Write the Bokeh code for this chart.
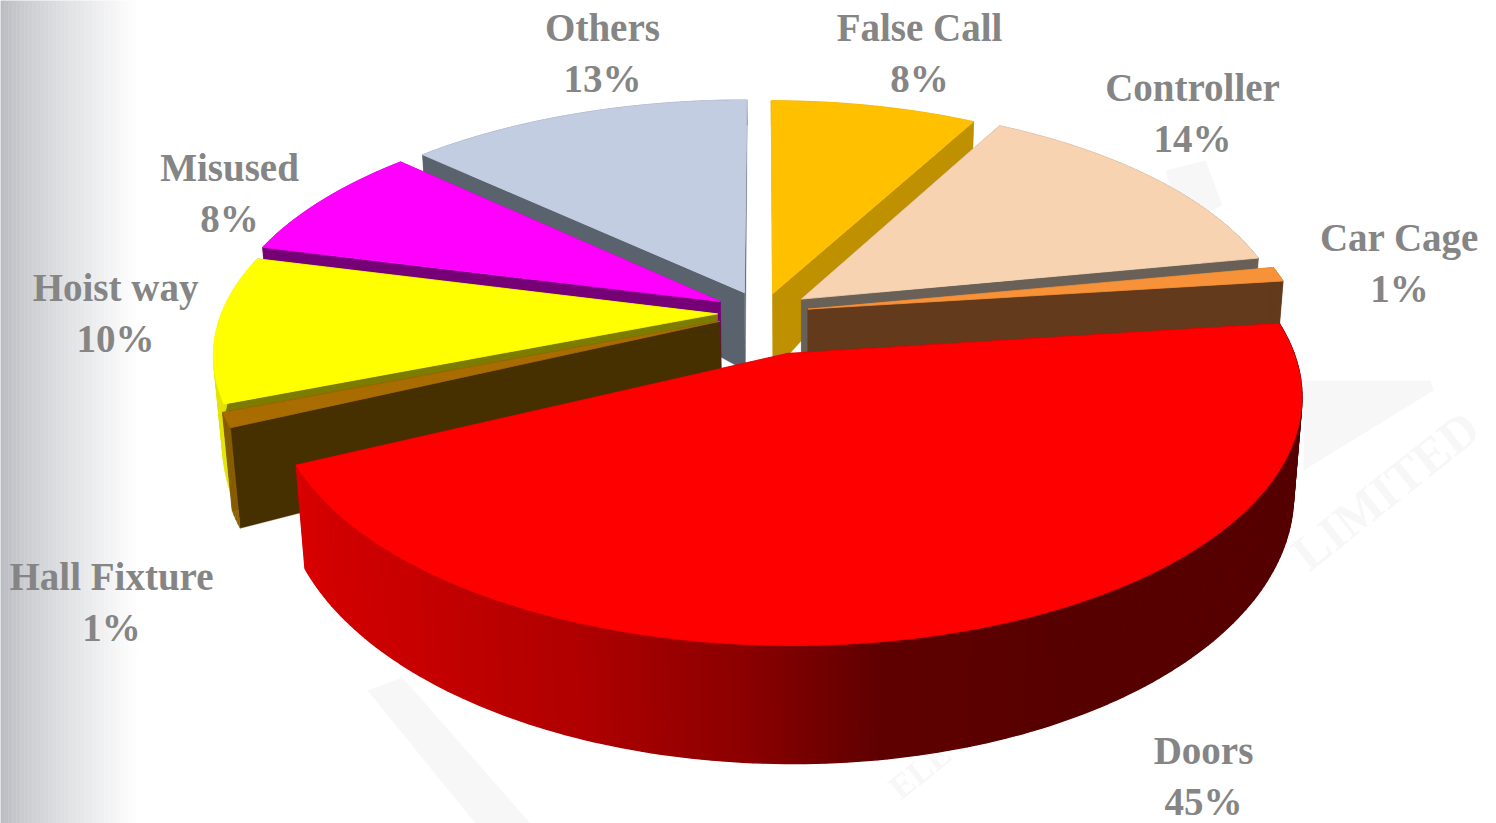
import numpy as np
from bokeh.plotting import figure
from bokeh.models import Range1d
from bokeh.core.properties import value
from bokeh.embed import file_html
from bokeh.resources import INLINE

# ---- data -------------------------------------------------------------
LABELS = ["False Call", "Controller", "Car Cage", "Doors", "Hall Fixture", "Hoist way", "Misused", "Others"]
VALUES = [8, 14, 1, 45, 1, 10, 8, 13]
PERCENT_TEXT = ["8%", "14%", "1%", "45%", "1%", "10%", "8%", "13%"]
TOP_COLORS = ["#ffc000", "#f8d3b2", "#f79239", "#ff0000", "#a86c00", "#ffff00", "#ff00ff", "#c3cde2"]
FACE_COLORS = ["#bf9000", "#696157", "#633b1c", "#560000", "#473000", "#7c7c00", "#760076", "#5a626e"]
RIM_COLORS = ["#bf9000", "#696157", "#633b1c", "#560000", "#8a6000", "#e4e400", "#760076", "#5a626e"]
EXPLODE = [0.085, 0.10, 0.095, 0.18, 0.095, 0.093, 0.10, 0.095]
SPREAD = [1.0, 1.0, 1.012, 1.015, 1.025, 1.022, 1.025, 1.03]
DRAW_ORDER = [7, 0, 1, 6, 5, 2, 4, 3]
LABEL_X = [919, 1192, 1399, 1203, 111, 115, 229, 602]
LABEL_Y = [27, 87, 237, 750, 576, 287, 167, 27]

# ---- view of the disc --------------------------------------------------
CX, CY, RX, RY, K = 762.0, 312.0, 485.0, 230.0, 0.162
DEPTH_Y = [100, 300, 420, 645]
DEPTH_V = [25, 80, 100, 118]


def project(px, py):
    s = 1.0 / (1.0 + K * py)
    return CX + RX * px * s, CY - RY * py * s


def drop(x, y):
    d = np.interp(y, DEPTH_Y, DEPTH_V)
    return x - (x - 800.0) * 0.00017 * d, y + d


def hex_rgb(h):
    return np.array([int(h[i:i + 2], 16) for i in (1, 3, 5)], dtype=float)


DOOR_ANG = [150, 172, 184, 201, 221, 250]
DOOR_RGB = [hex_rgb(c) for c in ["#560000", "#600000", "#8a0000", "#b00000", "#c80000", "#dc0000"]]


def door_rim(a):
    rgb = [np.interp(a, DOOR_ANG, [c[i] for c in DOOR_RGB]) for i in range(3)]
    return "#%02x%02x%02x" % tuple(int(v) for v in rgb)


W, H = 1496, 823
p = figure(width=W, height=H, x_range=Range1d(0, W), y_range=Range1d(H, 0),
           x_axis_type=None, y_axis_type=None, toolbar_location=None,
           output_backend="svg", min_border=0, outline_line_color=None,
           background_fill_color="#ffffff", border_fill_color="#ffffff")
p.grid.visible = False

# ---- page backdrop: grey fade on the left, faint watermark --------------
xs = np.arange(0, 150, 4)
fade = np.clip(xs / 135.0, 0, 1) ** 0.8
cols = ["#%02x%02x%02x" % tuple(int(a + (255 - a) * f) for a in (186, 189, 194)) for f in fade]
p.quad(left=xs, right=xs + 4, top=0, bottom=H, fill_color=cols, line_color=cols, line_width=0.5)

wm = "#f7f7f8"
p.patches(xs=[[1303, 1433, 1430, 1303], [367, 402, 530, 475], [1165, 1205, 1222, 1180]],
          ys=[[470, 390, 380, 380], [690, 677, 823, 823], [170, 160, 205, 225]],
          fill_color=wm, line_color=None)
p.text(x=[1385], y=[490], text=["LIMITED"], angle=[0.67], text_align="center", text_baseline="middle",
       text_font=value("Liberation Serif"), text_font_style="bold", text_font_size="50px", text_color=wm)
p.text(x=[945], y=[750], text=["ELEVAT"], angle=[0.67], text_align="center", text_baseline="middle",
       text_font=value("Liberation Serif"), text_font_style="bold", text_font_size="34px", text_color=wm)

# ---- slices -------------------------------------------------------------
total = float(sum(VALUES))
edges = np.cumsum([0] + VALUES) / total * 360.0

for i in DRAW_ORDER:
    a0, a1 = edges[i], edges[i + 1]
    mid = np.radians((a0 + a1) / 2)
    ox, oy = EXPLODE[i] * np.sin(mid), EXPLODE[i] * np.cos(mid)
    th = np.radians(np.linspace(a0, a1, max(4, int((a1 - a0))) + 1))
    rx, ry = project(ox + SPREAD[i] * np.sin(th), oy + np.cos(th))
    ax, ay = project(ox, oy)
    bx, by = drop(rx, ry)
    cx, cy = drop(np.array([ax]), np.array([ay]))

    # the two straight cut faces
    p.patch([ax, rx[0], bx[0], cx[0]], [ay, ry[0], by[0], cy[0]], fill_color=FACE_COLORS[i],
            line_color=FACE_COLORS[i], line_width=0.3)
    p.patch([ax, rx[-1], bx[-1], cx[0]], [ay, ry[-1], by[-1], cy[0]], fill_color=FACE_COLORS[i],
            line_color=FACE_COLORS[i], line_width=0.3)

    # the curved rim
    sx, sy, sc = [], [], []
    for j in range(len(th) - 1):
        sx.append([rx[j], rx[j + 1], bx[j + 1], bx[j]])
        sy.append([ry[j], ry[j + 1], by[j + 1], by[j]])
        if i == 3:
            sc.append(door_rim(np.degrees((th[j] + th[j + 1]) / 2)))
        else:
            sc.append(RIM_COLORS[i])
    p.patches(sx, sy, fill_color=sc, line_color=sc, line_width=1.5 if i == 3 else 0.4)

    # the top
    p.patch(np.r_[ax, rx], np.r_[ay, ry], fill_color=TOP_COLORS[i], line_color=TOP_COLORS[i], line_width=0.8)

# ---- labels --------------------------------------------------------------
label_font = dict(text_font=value("Liberation Serif"), text_font_style="bold", text_font_size="39px",
                  text_color="#858585", text_align="center", text_baseline="middle")
p.text(x=LABEL_X, y=LABEL_Y, text=LABELS, **label_font)
p.text(x=LABEL_X, y=[v + 51 for v in LABEL_Y], text=PERCENT_TEXT, **label_font)

open("out.html", "w").write(file_html(p, INLINE))
